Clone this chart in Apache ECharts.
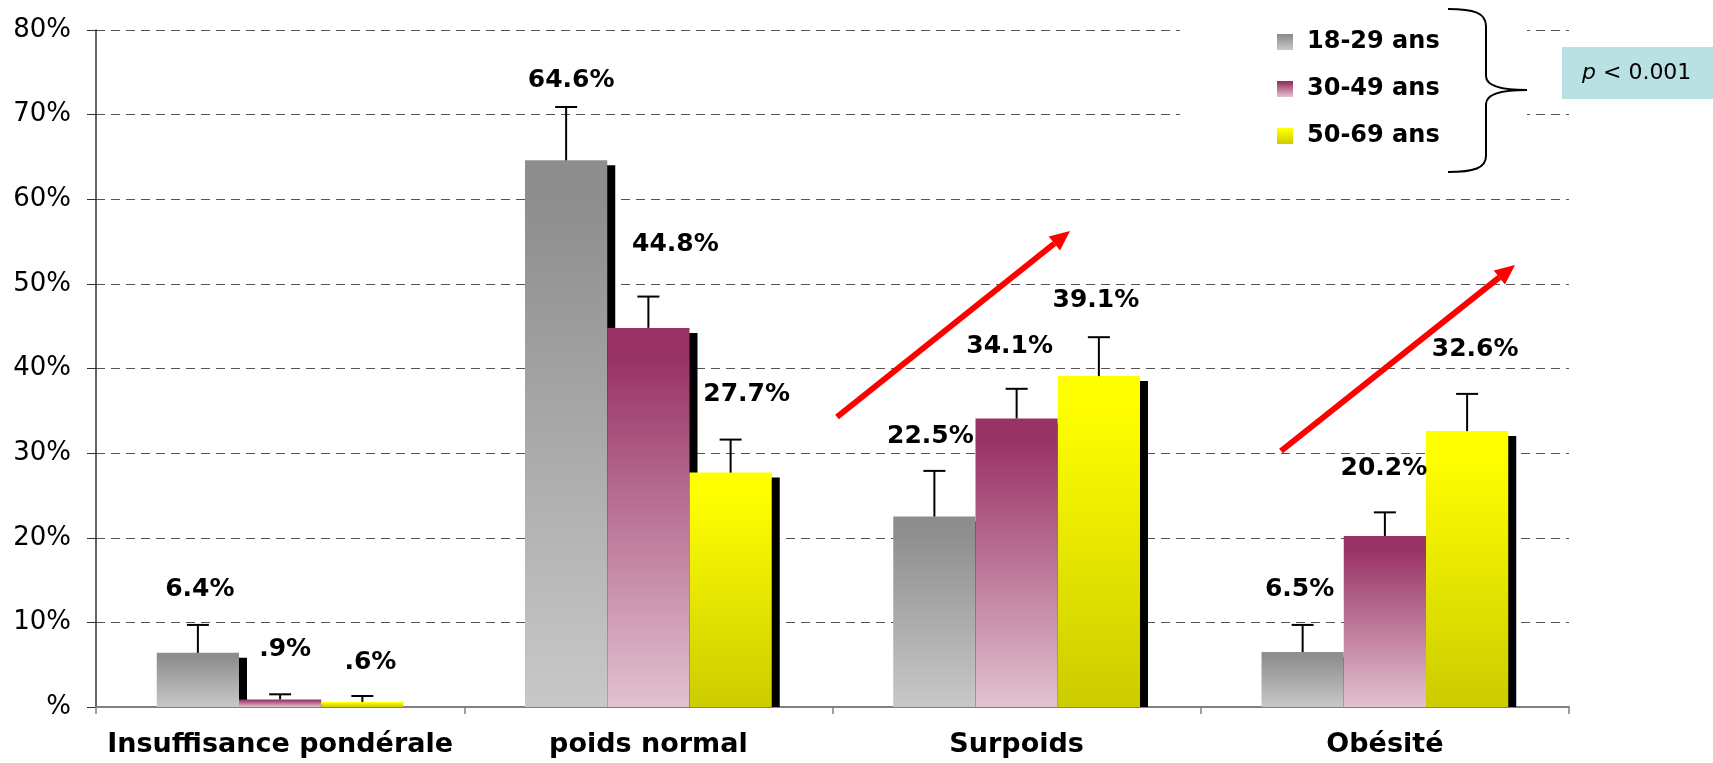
<!DOCTYPE html>
<html>
<head>
<meta charset="utf-8">
<script src="https://cdn.jsdelivr.net/npm/echarts@6/dist/echarts.min.js"></script>
<style>
	html, body { margin: 0; padding: 0; background: #ffffff; }
	#bmi_chart { width: 1713px; height: 763px; }
</style>
</head>
<body>
<div id="bmi_chart"></div>
<script>
	// categories (x axis) and age groups (series)
	var categories = ['Insuffisance pondérale', 'poids normal', 'Surpoids', 'Obésité'];
	var ageGroups = ['18-29 ans', '30-49 ans', '50-69 ans'];

	// prevalence in %, one array per age group
	var val18 = [6.4, 64.6, 22.5, 6.5];
	var val30 = [0.9, 44.8, 34.1, 20.2];
	var val50 = [0.6, 27.7, 39.1, 32.6];

	// upper end of the error bars, in %
	var err18 = [9.7, 70.9, 27.9, 9.7];
	var err30 = [1.5, 48.5, 37.6, 23.0];
	var err50 = [1.3, 31.6, 43.7, 37.0];

	// y axis ticks
	var yMin = 0, yMax = 80, yStep = 10;

	// label nudges (px) : horizontal shift and gap above the error bar
	var labelDx = [[2, 5, -4, -3], [5, 27, -7, -1], [8, 16, -3, 8]];
	var labelGap = [[35, 27, 34, 35], [45, 52, 42, 44], [33, 45, 37, 44]];

	var values = [val18, val30, val50];
	var errors = [err18, err30, err50];

	var gradients = [
		['#8e8e8e', '#8e8e8e', '#c8c8c8'],
		['#993366', '#993366', '#e2c2d0'],
		['#ffff00', '#ffff00', '#cccc00']
	];
	function grad(c) {
		return {
			type: 'linear', x: 0, y: 0, x2: 0, y2: 1,
			colorStops: [{offset: 0, color: c[0]}, {offset: 0.08, color: c[1]}, {offset: 1, color: c[2]}]
		};
	}

	function fmtPct(v) {
		var s = v.toFixed(1);
		if (v < 1) s = s.slice(1); //".9%" like in the original
		return s + '%';
	}

	// custom series rows: [category index, group index, value, error top]
	var rows = [];
	for (var g = 0; g < 3; g++) {
		for (var c = 0; c < categories.length; c++) {
			rows.push([c, g, values[g][c], errors[g][c]]);
		}
	}

	var CAT_GAP = 0.33;
	function barGeom(api) {
		var c = api.value(0), g = api.value(1);
		var base = api.coord([c, 0]);
		var band = api.size([1, 0])[0];
		var w = band * (1 - CAT_GAP) / 3;
		return {left: base[0] - 1.5 * w + g * w, w: w, y0: base[1], c: c, g: g};
	}

	function renderShadow(params, api) {
		var b = barGeom(api);
		var top = api.coord([b.c, api.value(2)])[1];
		var h = Math.max(0, b.y0 - top - 5);
		return {type: 'rect', shape: {x: b.left + 8, y: top + 5, width: b.w, height: h}, style: {fill: '#000'}};
	}

	function renderError(params, api) {
		var b = barGeom(api);
		var cx = b.left + b.w / 2;
		var yTop = api.coord([b.c, api.value(2)])[1];
		var yErr = api.coord([b.c, api.value(3)])[1];
		return {
			type: 'group',
			children: [
				{type: 'line', shape: {x1: cx, y1: yTop, x2: cx, y2: yErr}, style: {stroke: '#000', lineWidth: 2}},
				{type: 'line', shape: {x1: cx - 11, y1: yErr, x2: cx + 11, y2: yErr}, style: {stroke: '#000', lineWidth: 2}},
				{
					type: 'text',
					x: cx + labelDx[b.g][b.c],
					y: yErr - labelGap[b.g][b.c],
					style: {
						text: fmtPct(api.value(2)),
						fill: '#000',
						fontFamily: 'DejaVu Sans',
						fontWeight: 'bold',
						fontSize: 25,
						align: 'center',
						verticalAlign: 'middle'
					}
				}
			]
		};
	}

	function arrow(x1, y1, x2, y2) {
		var a = Math.atan2(y2 - y1, x2 - x1);
		var len = 20, half = 9;
		var bx = x2 - len * Math.cos(a), by = y2 - len * Math.sin(a);
		var px = -Math.sin(a) * half, py = Math.cos(a) * half;
		return [
			{type: 'line', z: 10, shape: {x1: x1, y1: y1, x2: bx, y2: by}, style: {stroke: '#ff0000', lineWidth: 6}},
			{type: 'polygon', z: 10, shape: {points: [[x2, y2], [bx + px, by + py], [bx - px, by - py]]}, style: {fill: '#ff0000'}}
		];
	}

	// curly brace built from curves and straight pieces
	var braceStyle = {stroke: '#000', lineWidth: 2, fill: null};
	var brace = [
		{type: 'bezierCurve', z: 5, shape: {x1: 1448, y1: 9, cpx1: 1474, cpy1: 9, cpx2: 1486, cpy2: 13, x2: 1486, y2: 26}, style: braceStyle},
		{type: 'line', z: 5, shape: {x1: 1486, y1: 26, x2: 1486, y2: 76}, style: braceStyle},
		{type: 'bezierCurve', z: 5, shape: {x1: 1486, y1: 76, cpx1: 1486, cpy1: 86, cpx2: 1500, cpy2: 90, x2: 1527, y2: 90}, style: braceStyle},
		{type: 'bezierCurve', z: 5, shape: {x1: 1527, y1: 90, cpx1: 1500, cpy1: 90, cpx2: 1486, cpy2: 94, x2: 1486, y2: 104}, style: braceStyle},
		{type: 'line', z: 5, shape: {x1: 1486, y1: 104, x2: 1486, y2: 156}, style: braceStyle},
		{type: 'bezierCurve', z: 5, shape: {x1: 1486, y1: 156, cpx1: 1486, cpy1: 168, cpx2: 1474, cpy2: 172, x2: 1448, y2: 172}, style: braceStyle}
	];

	var barSeries = ageGroups.map(function (name, g) {
		return {
			name: name,
			type: 'bar',
			z: 2,
			barGap: '0%',
			barCategoryGap: (CAT_GAP * 100) + '%',
			itemStyle: {color: grad(gradients[g]), borderWidth: 0},
			data: values[g]
		};
	});

	var option = {
		animation: false,
		backgroundColor: '#ffffff',
		grid: {left: 96, right: 144, top: 30, bottom: 56},
		legend: {
			data: ageGroups,
			orient: 'vertical',
			left: 1272,
			top: 25,
			itemWidth: 16,
			itemHeight: 16,
			itemGap: 23,
			icon: 'rect',
			selectedMode: false,
			textStyle: {
				color: '#000',
				fontFamily: 'DejaVu Sans',
				fontWeight: 'bold',
				fontSize: 24,
				lineHeight: 24,
				padding: [0, 0, 0, 9]
			}
		},
		xAxis: {
			type: 'category',
			data: categories,
			axisLine: {show: true, lineStyle: {color: '#808080', width: 2}},
			axisTick: {show: true, alignWithLabel: false, length: 7, interval: 0, lineStyle: {color: '#808080', width: 1.5}},
			axisLabel: {
				interval: 0,
				margin: 24,
				color: '#000',
				fontFamily: 'DejaVu Sans',
				fontWeight: 'bold',
				fontSize: 27
			},
			splitLine: {show: false}
		},
		yAxis: {
			type: 'value',
			min: yMin,
			max: yMax,
			interval: yStep,
			axisLine: {show: true, lineStyle: {color: '#333', width: 1.5}},
			axisTick: {show: true, length: 9, lineStyle: {color: '#333'}},
			axisLabel: {
				margin: 25,
				color: '#000',
				fontFamily: 'DejaVu Sans',
				fontSize: 26,
				formatter: function (v) { return v === 0 ? '%' : v + '%'; }
			},
			splitLine: {show: true, lineStyle: {color: '#555', type: [9, 6], width: 1}}
		},
		graphic: [
			// white backing behind the legend (hides grid lines)
			{type: 'rect', z: 1, shape: {x: 1180, y: 0, width: 347, height: 185}, style: {fill: '#fff'}},
			// p-value box
			{type: 'rect', z: 5, shape: {x: 1562, y: 47, width: 151, height: 52}, style: {fill: '#b9e0e2'}},
			{
				type: 'text', z: 6, x: 1582, y: 73,
				style: {
					text: '{i|p} < 0.001',
					fill: '#000',
					fontFamily: 'DejaVu Sans',
					fontSize: 22,
					verticalAlign: 'middle',
					rich: {i: {fontStyle: 'italic', fontFamily: 'DejaVu Sans', fontSize: 22, fill: '#000'}}
				}
			}
		].concat(brace).concat(arrow(837, 417, 1070, 231)).concat(arrow(1281, 451, 1515, 265)),
		series: [
			{
				name: 'shadow',
				type: 'custom',
				z: 1,
				renderItem: renderShadow,
				encode: {x: 0, y: 2},
				data: rows,
				silent: true
			}
		].concat(barSeries).concat([
			{
				name: 'error',
				type: 'custom',
				z: 3,
				renderItem: renderError,
				encode: {x: 0, y: [2, 3]},
				data: rows,
				silent: true
			}
		])
	};

	var bmiChart = echarts.init(document.getElementById('bmi_chart'));
	bmiChart.setOption(option);
</script>
</body>
</html>
